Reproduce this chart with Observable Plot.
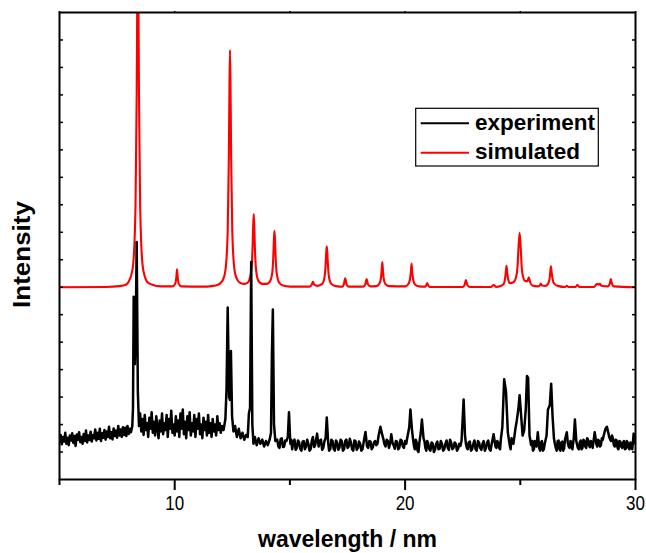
<!DOCTYPE html>
<html><head><meta charset="utf-8">
<script src="https://cdn.jsdelivr.net/npm/d3@7"></script>
<script src="https://cdn.jsdelivr.net/npm/@observablehq/plot@0.6"></script>
<style>body{margin:0;background:#fff} svg{display:block}</style>
</head><body><div id="chart"></div>
<script>
// ---- data: [wavelength, intensity] ----
const experiment = [
 [5.00,1.35],[5.05,1.62],[5.10,1.28],[5.15,1.55],[5.20,1.38],[5.25,1.70],[5.30,1.30],[5.35,1.52],[5.40,1.25],[5.45,1.60],
 [5.50,1.42],[5.55,1.68],[5.60,1.33],[5.65,1.58],[5.70,1.22],[5.75,1.64],[5.80,1.45],[5.85,1.72],[5.90,1.36],[5.95,1.55],
 [6.00,1.30],[6.05,1.66],[6.10,1.40],[6.15,1.78],[6.20,1.35],[6.25,1.60],[6.30,1.44],[6.35,1.74],[6.40,1.38],[6.45,1.62],
 [6.50,1.50],[6.55,1.82],[6.60,1.42],[6.65,1.70],[6.70,1.48],[6.75,1.85],[6.80,1.40],[6.85,1.68],[6.90,1.52],[6.95,1.80],
 [7.00,1.45],[7.05,1.75],[7.10,1.55],[7.15,1.92],[7.20,1.50],[7.25,1.72],[7.30,1.46],[7.35,1.86],[7.40,1.58],[7.45,1.78],
 [7.50,1.52],[7.55,1.95],[7.60,1.60],[7.65,1.82],[7.70,1.55],[7.75,1.90],[7.80,1.62],[7.85,1.88],[7.90,1.58],[7.95,1.95],
 [8.00,1.66],[8.05,1.85],[8.10,1.72],
 [8.16,1.95],[8.19,2.60],[8.22,6.65],[8.27,4.20],[8.31,5.50],[8.35,8.65],[8.40,3.20],[8.45,1.95],[8.50,2.40],
 [8.55,1.75],[8.60,2.20],[8.65,1.62],[8.70,2.35],[8.75,1.80],[8.80,2.05],[8.85,1.55],[8.90,2.25],[8.95,1.85],[9.00,2.45],
 [9.05,1.70],[9.10,2.10],[9.15,1.60],[9.20,2.30],[9.25,1.90],[9.30,1.50],[9.35,2.15],[9.40,1.75],[9.45,2.40],[9.50,1.65],
 [9.55,2.05],[9.60,1.80],[9.65,2.35],[9.70,1.55],[9.75,2.20],[9.80,1.85],[9.85,2.50],[9.90,1.70],[9.95,2.00],[10.00,1.60],
 [10.05,2.30],[10.10,1.75],[10.15,2.15],[10.20,1.55],[10.25,2.40],[10.30,1.85],[10.35,2.55],[10.40,1.65],[10.45,2.10],[10.50,1.50],
 [10.55,2.30],[10.60,1.80],[10.65,2.45],[10.70,1.60],[10.75,2.05],[10.80,1.75],[10.85,2.35],[10.90,1.55],[10.95,2.20],[11.00,1.85],
 [11.05,2.40],[11.10,1.65],[11.15,2.00],[11.20,1.50],[11.25,2.25],[11.30,1.80],[11.35,2.10],[11.40,1.60],[11.45,2.35],[11.50,1.70],
 [11.55,2.05],[11.60,1.55],[11.65,2.20],[11.70,1.75],[11.75,2.00],[11.80,1.60],[11.85,2.30],[11.90,1.80],[11.95,2.05],[12.00,1.70],
 [12.05,1.95],[12.12,1.80],
 [12.20,2.20],[12.25,3.30],[12.30,6.26],[12.36,3.00],[12.40,2.90],[12.44,4.68],[12.49,2.30],[12.55,1.75],
 [12.62,1.95],[12.70,1.55],[12.78,1.85],[12.86,1.50],[12.94,1.70],[13.02,1.45],[13.10,1.62],[13.17,1.55],[13.22,2.40],[13.27,2.60],
 [13.32,7.92],[13.37,2.00],[13.42,1.30],
 [13.48,1.55],[13.56,1.25],[13.64,1.50],[13.72,1.30],[13.80,1.45],[13.88,1.20],[13.96,1.40],[14.04,1.25],[14.12,1.45],[14.18,1.70],
 [14.22,4.60],[14.26,6.19],[14.31,2.00],[14.37,1.40],
 [14.45,1.45],[14.50,1.20],[14.55,1.15],[14.60,1.48],[14.65,1.50],[14.70,1.18],[14.75,1.20],[14.80,1.42],[14.85,1.40],[14.91,1.55],
 [14.96,2.45],[15.02,1.30],[15.06,1.45],[15.10,1.10],[15.15,1.38],[15.20,1.45],[15.25,1.08],[15.30,1.15],[15.35,1.42],[15.40,1.35],
 [15.45,1.12],[15.50,1.05],[15.55,1.38],[15.60,1.40],[15.65,1.10],[15.70,1.20],[15.75,1.45],[15.80,1.30],[15.85,1.05],[15.90,1.10],
 [15.95,1.40],[16.00,1.55],[16.05,1.18],[16.10,1.25],[16.18,1.67],[16.25,1.20],[16.30,1.42],[16.35,1.45],[16.40,1.08],[16.45,1.15],
 [16.50,1.40],[16.55,1.50],[16.60,2.26],[16.66,1.35],[16.70,1.05],[16.75,1.10],[16.80,1.45],[16.85,1.40],[16.90,1.12],[16.95,1.05],
 [17.00,1.42],[17.05,1.35],[17.10,1.08],[17.15,1.15],[17.20,1.45],[17.25,1.40],[17.30,1.05],[17.35,1.10],[17.40,1.40],[17.45,1.45],
 [17.50,1.15],[17.55,1.20],[17.60,1.48],[17.65,1.35],[17.70,1.10],[17.75,1.05],[17.80,1.42],[17.85,1.40],[17.90,1.08],[17.95,1.15],
 [18.00,1.38],[18.05,1.30],[18.10,1.05],[18.15,1.10],[18.22,1.45],[18.28,1.73],[18.35,1.20],[18.40,1.15],[18.45,1.40],[18.50,1.38],
 [18.55,1.10],[18.60,1.18],[18.65,1.35],[18.70,1.40],[18.75,1.25],[18.80,1.30],[18.85,1.60],[18.93,1.92],[19.00,1.65],[19.05,1.50],
 [19.10,1.30],[19.15,1.20],[19.20,1.45],[19.25,1.40],[19.30,1.15],[19.35,1.30],[19.40,1.65],[19.45,1.35],[19.50,1.25],[19.55,1.12],
 [19.60,1.40],[19.65,1.38],[19.70,1.10],[19.75,1.15],[19.80,1.45],[19.85,1.42],[19.90,1.20],[19.95,1.15],[20.00,1.40],[20.05,1.30],
 [20.10,1.55],[20.18,1.90],[20.23,2.55],[20.30,1.80],[20.34,1.50],[20.38,1.25],[20.42,1.10],[20.46,1.45],[20.50,1.35],[20.54,1.05],
 [20.58,1.00],[20.62,1.35],[20.68,1.70],[20.73,2.18],[20.80,1.50],[20.84,1.40],[20.88,1.15],[20.92,1.05],[20.96,1.40],[21.00,1.32],
 [21.05,1.10],[21.10,1.05],[21.15,1.35],[21.20,1.30],[21.25,1.00],[21.30,1.08],[21.35,1.30],[21.40,1.38],[21.45,1.10],[21.50,1.12],
 [21.55,1.40],[21.60,1.30],[21.65,1.05],[21.70,1.10],[21.75,1.30],[21.80,1.42],[21.85,1.15],[21.90,1.08],[21.95,1.45],[22.00,1.35],
 [22.05,1.10],[22.10,1.15],[22.15,1.35],[22.20,1.30],[22.25,1.05],[22.30,1.12],[22.35,1.30],[22.40,1.22],[22.45,1.40],[22.54,2.91],
 [22.60,1.60],[22.64,1.30],[22.68,1.15],[22.72,1.10],[22.76,1.35],[22.81,1.38],[22.86,1.05],[22.91,1.10],[22.96,1.30],[23.01,1.42],
 [23.06,1.10],[23.11,1.05],[23.16,1.40],[23.21,1.35],[23.26,1.15],[23.31,1.08],[23.36,1.30],[23.41,1.40],[23.46,1.05],[23.51,1.15],
 [23.56,1.35],[23.61,1.42],[23.66,1.10],[23.71,1.05],[23.76,1.30],[23.84,1.65],[23.92,1.20],[23.96,1.15],[24.00,1.40],[24.04,1.35],
 [24.08,1.15],[24.12,1.10],[24.16,1.50],[24.22,1.90],[24.30,3.65],[24.38,3.20],[24.46,1.70],[24.54,1.25],[24.58,1.10],[24.62,1.50],
 [24.66,1.45],[24.70,1.30],[24.78,1.80],[24.85,2.16],[24.92,2.60],[24.97,3.07],[25.03,2.40],[25.10,1.60],[25.17,1.80],[25.24,2.60],
 [25.29,3.77],[25.34,3.70],[25.40,1.60],[25.47,1.25],[25.51,1.40],[25.55,1.05],[25.59,1.10],[25.62,1.40],[25.66,1.35],[25.70,1.20],
 [25.76,1.72],[25.82,1.15],[25.86,1.05],[25.90,1.35],[25.94,1.40],[25.98,1.05],[26.02,1.10],[26.06,1.30],[26.14,1.60],[26.20,2.55],
 [26.28,2.70],[26.34,3.49],[26.40,2.30],[26.46,1.50],[26.50,1.30],[26.54,1.15],[26.58,1.05],[26.62,1.40],[26.66,1.42],[26.70,1.10],
 [26.74,1.05],[26.78,1.35],[26.82,1.38],[26.86,1.05],[26.90,1.12],[26.94,1.45],[27.02,1.72],[27.06,1.35],[27.10,1.20],[27.14,1.15],
 [27.18,1.40],[27.22,1.35],[27.26,1.10],[27.32,1.50],[27.37,2.18],[27.43,1.40],[27.47,1.25],[27.50,1.15],[27.54,1.10],[27.58,1.35],
 [27.62,1.42],[27.66,1.10],[27.70,1.15],[27.74,1.45],[27.78,1.40],[27.82,1.20],[27.86,1.15],[27.90,1.50],[27.94,1.45],[27.98,1.25],
 [28.02,1.18],[28.06,1.40],[28.10,1.35],[28.14,1.15],[28.23,1.72],[28.30,1.30],[28.34,1.20],[28.38,1.45],[28.42,1.40],[28.46,1.20],
 [28.50,1.25],[28.54,1.50],[28.58,1.45],[28.62,1.60],[28.70,1.85],[28.76,1.92],[28.82,1.70],[28.86,1.55],[28.90,1.45],[28.94,1.40],
 [28.98,1.60],[29.02,1.50],[29.06,1.25],[29.10,1.20],[29.14,1.45],[29.18,1.42],[29.22,1.15],[29.26,1.10],[29.30,1.40],[29.34,1.38],
 [29.38,1.20],[29.42,1.15],[29.46,1.35],[29.50,1.40],[29.54,1.10],[29.58,1.12],[29.62,1.40],[29.66,1.35],[29.70,1.15],[29.74,1.10],
 [29.78,1.35],[29.82,1.30],[29.86,1.10],[29.92,1.67],[29.96,1.40],[30.00,1.30]
];
const simulated = [
 [5.0,7.0],[7.0,7.01],[7.6,7.04],[7.9,7.1],[8.0,7.2],[8.1,7.4],[8.2,7.85],[8.3,10.0],[8.35,14.0],[8.375,17.5],[8.40,20.0],[8.425,17.5],
 [8.45,14.0],[8.5,10.0],[8.6,7.85],[8.7,7.4],[8.8,7.2],[9.0,7.1],[9.4,7.03],[9.9,7.03],[10.02,7.12],[10.07,7.36],[10.1,7.65],[10.13,7.36],
 [10.18,7.12],[10.3,7.03],[11.2,7.02],[11.6,7.04],[11.9,7.1],[12.0,7.16],[12.1,7.28],[12.2,7.6],[12.3,9.0],[12.35,11.73],[12.375,14.15],
 [12.40,15.63],[12.425,14.15],[12.45,11.73],[12.5,9.0],[12.6,7.6],[12.7,7.3],[12.8,7.18],[13.0,7.12],[13.15,7.16],[13.23,7.25],[13.33,7.65],
 [13.38,8.46],[13.405,9.2],[13.43,9.66],[13.455,9.2],[13.48,8.46],[13.53,7.65],[13.63,7.24],[13.8,7.12],[14.0,7.12],[14.13,7.2],[14.23,7.5],
 [14.28,8.12],[14.305,8.7],[14.33,9.05],[14.355,8.7],[14.38,8.12],[14.43,7.5],[14.53,7.17],[14.7,7.06],[15.0,7.02],[15.85,7.02],[15.95,7.1],
 [16.0,7.2],[16.05,7.1],[16.2,7.05],[16.4,7.12],[16.5,7.35],[16.55,7.82],[16.575,8.24],[16.6,8.49],[16.625,8.24],[16.65,7.82],[16.7,7.35],
 [16.8,7.12],[17.0,7.04],[17.28,7.02],[17.34,7.1],[17.4,7.32],[17.46,7.1],[17.55,7.02],[18.18,7.02],[18.27,7.1],[18.33,7.3],[18.39,7.1],
 [18.5,7.03],[18.75,7.04],[18.88,7.12],[18.95,7.32],[18.98,7.6],[19.01,7.92],[19.04,7.6],[19.07,7.32],[19.14,7.12],[19.3,7.04],[20.0,7.03],
 [20.13,7.1],[20.21,7.28],[20.25,7.55],[20.28,7.86],[20.31,7.55],[20.35,7.28],[20.43,7.1],[20.6,7.03],[20.88,7.02],[20.92,7.07],[20.96,7.15],
 [21.0,7.07],[21.08,7.01],[22.5,7.01],[22.58,7.08],[22.64,7.26],[22.7,7.08],[22.8,7.01],[23.74,7.01],[23.84,7.08],[23.94,7.01],[24.15,7.04],
 [24.28,7.12],[24.34,7.32],[24.37,7.55],[24.40,7.78],[24.43,7.55],[24.47,7.3],[24.55,7.15],[24.7,7.18],[24.82,7.38],[24.88,7.75],[24.92,8.4],
 [24.97,8.98],[25.02,8.4],[25.06,7.75],[25.12,7.38],[25.22,7.22],[25.31,7.22],[25.37,7.36],[25.43,7.18],[25.52,7.06],[25.75,7.03],[25.84,7.06],
 [25.89,7.13],[25.94,7.06],[26.1,7.05],[26.2,7.12],[26.27,7.3],[26.3,7.55],[26.33,7.76],[26.36,7.55],[26.4,7.3],[26.48,7.12],[26.65,7.04],
 [26.95,7.01],[27.02,7.05],[27.09,7.01],[27.4,7.01],[27.48,7.08],[27.56,7.01],[28.2,7.01],[28.3,7.1],[28.35,7.12],[28.4,7.09],[28.45,7.12],
 [28.52,7.05],[28.8,7.03],[28.88,7.12],[28.93,7.3],[28.98,7.12],[29.06,7.03],[30.0,7.0]
];
const xMajorTicks = [10, 20, 30];
const xMinorTicks = [5, 15, 25];
const yTicks = [1,2,3,4,5,6,7,8,9,10,11,12,13,14,15,16];
const seriesNames = ["experiment", "simulated"];
const seriesColors = ["#000000", "#ff0000"];
const xLabel = "wavelength / nm";
const yLabel = "Intensity";

// ---- build ----
const exp = experiment.map(([x, y]) => ({x, y}));
const sim = simulated.map(([x, y]) => ({x, y}));
const font = "'Liberation Sans', Arial, Helvetica, sans-serif";

const plot = Plot.plot({
  width: 646, height: 553,
  marginLeft: 59, marginRight: 11, marginTop: 12, marginBottom: 74,
  style: {fontFamily: font, background: "#fff", color: "#000", overflow: "visible"},
  x: {domain: [5, 30]},
  y: {domain: [0, 17]},
  marks: [
    Plot.line(sim, {x: "x", y: "y", stroke: seriesColors[1], strokeWidth: 2.1, curve: "monotone-x", clip: true}),
    Plot.line(exp, {x: "x", y: "y", stroke: seriesColors[0], strokeWidth: 2.5, clip: true}),
    Plot.frame({stroke: "#000", strokeWidth: 2}),
    Plot.axisX(xMajorTicks, {anchor: "bottom", tickSize: 11, tickPadding: 4.5, fontSize: 17, label: null, strokeWidth: 2}),
    Plot.axisX(xMinorTicks, {anchor: "bottom", tickSize: 6, tickFormat: () => "", label: null, strokeWidth: 2}),
    Plot.axisX([...xMinorTicks, ...xMajorTicks], {anchor: "top", tickSize: 2, tickFormat: () => "", label: null, strokeWidth: 1.5}),
    Plot.axisY(yTicks, {anchor: "left", tickSize: -4, tickFormat: () => "", label: null, strokeWidth: 1.5}),
    Plot.axisY(yTicks, {anchor: "right", tickSize: -4, tickFormat: () => "", label: null, strokeWidth: 1.5}),
    Plot.text([xLabel], {text: d => d, frameAnchor: "bottom", textAnchor: "middle", dy: 67, lineAnchor: "bottom", fontSize: 23, fontWeight: "bold"}),
    Plot.text([yLabel], {text: d => d, frameAnchor: "left", textAnchor: "middle", rotate: -90, dx: -30, dy: 8.5, lineAnchor: "bottom", fontSize: 23, fontWeight: "bold"})
  ]
});

const svg = d3.select(plot);
// tick labels: slightly stretched vertically as in the reference
svg.selectAll('g[aria-label="x-axis tick label"]').attr("font-size", 17);
svg.selectAll('g[aria-label="x-axis tick label"] text').attr("font-size", 17).each(function () {
  const t = this.getAttribute("transform");
  if (t) this.setAttribute("transform", t + " scale(1,1.22)");
});
svg.selectAll("text").filter(function () { return this.textContent === yLabel; }).each(function () {
  const t = this.getAttribute("transform");
  if (t) this.setAttribute("transform", t + " scale(1.13,1)");
});

// legend box inside the plot area
const lg = svg.append("g").attr("font-family", font).attr("font-weight", "bold")
  .attr("font-size", 22.5).attr("text-anchor", "start");
lg.append("rect").attr("x", 415.7).attr("y", 108.3).attr("width", 182.6).attr("height", 57.7)
  .attr("fill", "#fff").attr("stroke", "#000").attr("stroke-width", 1.2);
seriesNames.forEach((name, i) => {
  const yy = [123.3, 152.7][i];
  lg.append("line").attr("x1", 420.7).attr("x2", 469).attr("y1", yy).attr("y2", yy)
    .attr("stroke", seriesColors[i]).attr("stroke-width", 2);
  lg.append("text").attr("x", 475).attr("y", yy + 6.3).attr("fill", "#000").attr("text-anchor", "start").text(name);
});

document.getElementById("chart").append(plot);
</script>
</body></html>
